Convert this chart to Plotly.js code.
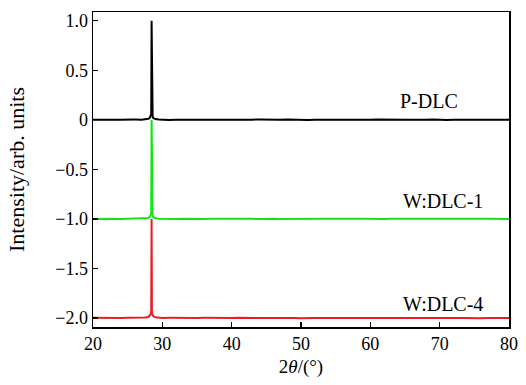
<!DOCTYPE html>
<html>
<head>
<meta charset="utf-8">
<script src="https://cdn.plot.ly/plotly-3.0.1.min.js"></script>
<style>html,body{margin:0;padding:0;background:#fff;}#chart{width:526px;height:385px;}</style>
</head>
<body>
<div id="chart"></div>
<script>
// 2θ positions (degrees)
const twoTheta = [20,21,22,23,24,25,26,27,27.5,28.0,28.2,28.3,28.4,28.45,28.5,28.6,28.7,29.0,29.5,
  30,31,32,33,34,35,36,37,38,39,40,41,42,43,44,45,46,47,48,49,50,51,52,53,54,55,56,57,58,59,60,
  61,62,63,64,65,66,67,68,69,70,71,72,73,74,75,76,77,78,79,80];

// normalised intensities (baseline 0, peak 1)
const pDLC = [0.002,-0.001,0.003,0.000,0.002,-0.001,0.003,0.002,0.004,0.010,0.022,0.035,0.06,1.00,0.05,0.030,0.018,0.008,0.004,
  0.002,-0.001,0.002,0.001,-0.002,0.002,0.003,0.000,0.002,-0.001,0.002,0.001,-0.001,0.002,0.003,0.001,-0.002,0.002,0.003,0.000,0.001,
  -0.001,0.002,0.001,0.003,-0.001,0.002,0.000,0.002,-0.001,0.001,0.003,0.001,-0.002,0.002,0.000,0.002,-0.001,0.001,0.003,0.000,
  -0.001,0.002,0.001,0.002,-0.001,0.001,0.000,0.002,-0.001,0.001];
const wDLC1 = [-0.001,0.002,0.000,0.003,-0.001,0.002,0.001,0.003,0.005,0.010,0.022,0.034,0.06,1.00,0.05,0.028,0.016,0.007,0.003,
  0.001,0.003,-0.001,0.002,0.000,0.002,-0.001,0.002,0.003,0.001,-0.001,0.002,0.000,0.001,-0.001,0.002,0.003,0.000,-0.001,0.002,0.001,
  0.002,-0.001,0.001,0.002,0.000,-0.001,0.002,0.001,0.002,-0.001,0.001,0.000,0.002,-0.001,0.001,0.002,0.000,-0.001,0.001,0.002,
  -0.001,0.001,0.002,0.000,-0.001,0.001,0.002,-0.001,0.001,0.000];
const wDLC4 = [0.003,0.001,0.002,-0.001,0.002,0.003,0.001,0.003,0.005,0.011,0.024,0.036,0.06,1.00,0.05,0.030,0.018,0.009,0.004,
  0.002,0.003,0.001,0.002,-0.001,0.002,0.003,0.001,0.000,0.002,0.001,0.003,-0.001,0.002,0.001,0.002,0.000,0.001,0.003,0.001,-0.001,
  0.002,0.002,0.000,0.001,0.003,0.001,-0.001,0.002,0.001,0.002,0.000,0.002,0.001,-0.001,0.002,0.001,0.000,0.002,0.001,0.002,
  -0.001,0.001,0.002,0.000,0.001,-0.001,0.002,0.001,0.000,0.001];

const sampleNames = ['W:DLC-4','W:DLC-1','P-DLC'];
const offsets = [-2.0,-1.0,0.0];
const seriesData = [wDLC4, wDLC1, pDLC];
const colors = ['rgb(232,28,36)','rgb(20,228,20)','rgb(0,0,0)'];

const yTickVals = [-2.0,-1.5,-1.0,-0.5,0,0.5,1.0];
const yTickText = ['\u22122.0','\u22121.5','\u22121.0','\u22120.5','0','0.5','1.0'];
const xTickVals = [20,30,40,50,60,70,80];

const FONT = '"Liberation Serif", serif';

const traces = seriesData.map((s,i)=>({
  x: twoTheta,
  y: s.map(v=>v+offsets[i]),
  type:'scatter', mode:'lines', name: sampleNames[i],
  line:{color:colors[i], width:2},
  showlegend:false
}));

const labelX = [70.5,70.5,68.5];
const labelY = [-1.86,-0.815,0.19];
const annotations = sampleNames.map((n,i)=>({
  x: labelX[i], y: labelY[i], xref:'x', yref:'y', text:n, showarrow:false,
  font:{family:FONT, size:20, color:'#000'}
}));

const layout = {
  width:526, height:385,
  margin:{l:93, r:17, t:12, b:58},
  paper_bgcolor:'#fff', plot_bgcolor:'#fff',
  font:{family:FONT, size:17, color:'#000'},
  xaxis:{
    range:[20,80], tickvals:xTickVals, ticks:'inside', ticklen:5, tickwidth:1.2, tickcolor:'#000',
    showline:true, mirror:true, linecolor:'#000', linewidth:1.5, showgrid:false, zeroline:false,
    tickfont:{family:FONT, size:18},
    title:{text:'2<i>θ</i>/(°)', font:{family:FONT, size:19}, standoff:6}
  },
  yaxis:{
    range:[-2.09,1.088], tickvals:yTickVals, ticktext:yTickText, ticks:'inside', ticklen:5, tickwidth:1.2, tickcolor:'#000',
    showline:true, mirror:true, linecolor:'#000', linewidth:1.5, showgrid:false, zeroline:false,
    tickfont:{family:FONT, size:18},
    title:{text:'Intensity/arb. units', font:{family:FONT, size:22}, standoff:24}
  },
  annotations: annotations
};

Plotly.newPlot('chart', traces, layout, {displayModeBar:false, staticPlot:true});
</script>
</body>
</html>
